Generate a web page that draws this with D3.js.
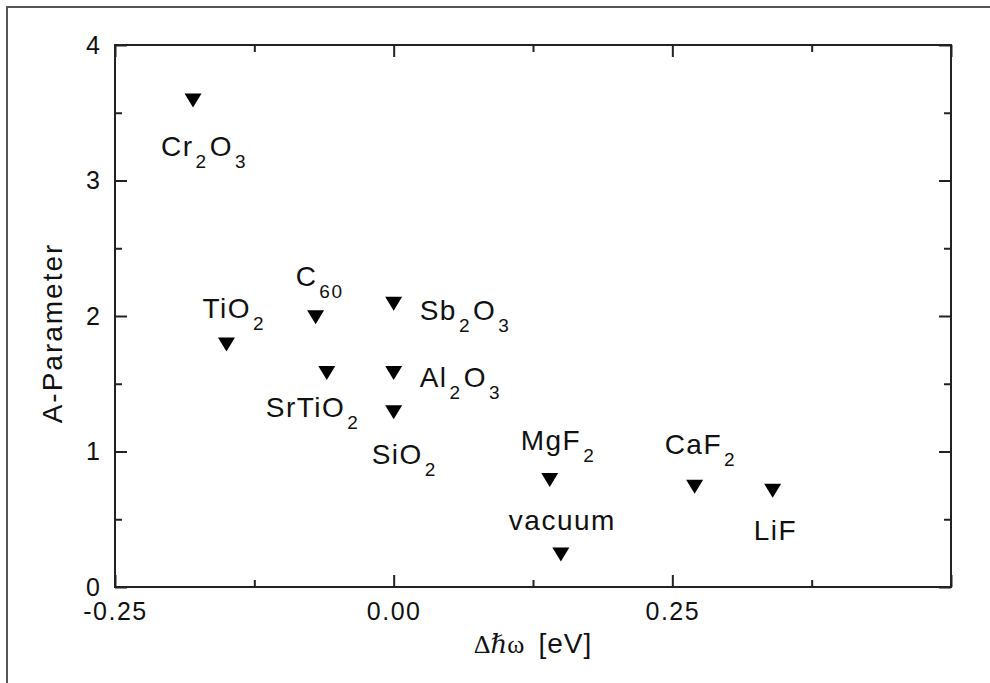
<!DOCTYPE html>
<html>
<head>
<meta charset="utf-8">
<script src="https://cdn.jsdelivr.net/npm/d3@7"></script>
<style>
  html, body { margin: 0; padding: 0; background: #fff; }
  svg { display: block; }
  text { font-family: "Liberation Sans", Arial, Helvetica, sans-serif; fill: #111; }
</style>
</head>
<body>
<svg id="chart" width="990" height="683"></svg>
<script>
// ---- data ----
const materials = ["Cr_2O_3", "TiO_2", "C_60", "SrTiO_2", "Sb_2O_3", "Al_2O_3", "SiO_2", "MgF_2", "vacuum", "CaF_2", "LiF"];
const deltaE   = [-0.18, -0.15, -0.07, -0.06, 0.00, 0.00, 0.00, 0.14, 0.15, 0.27, 0.34];
const aParam   = [3.59, 1.79, 1.99, 1.58, 2.09, 1.58, 1.29, 0.79, 0.24, 0.74, 0.71];
const xTickValues = [-0.25, 0.00, 0.25, 0.50];
const xTickLabels = ["-0.25", "0.00", "0.25", ""];
const xMinorTicks = [-0.125, 0.125, 0.375];
const yTickValues = [0, 1, 2, 3, 4];
const yTickLabels = ["0", "1", "2", "3", "4"];
const yMinorTicks = [0.5, 1.5, 2.5, 3.5];

// ---- layout (pixel offsets of each label relative to its marker) ----
const labelOffsets = [[-32, 55], [-24, -26], [-20, -31], [-61, 44], [26, 16], [26, 14], [-22, 52], [-29, -30], [-52, -24], [-30, -33], [-19, 49]];

const svg = d3.select("#chart");
const W = 990, H = 683;
const plot = { left: 115, top: 45, right: 951, bottom: 587 };

// outer frame
svg.append("rect").attr("x", 7).attr("y", 7).attr("width", W).attr("height", H)
  .attr("fill", "none").attr("stroke", "#555").attr("stroke-width", 2);

const x = d3.scaleLinear().domain([-0.25, 0.5]).range([plot.left, plot.right]);
const y = d3.scaleLinear().domain([0, 4]).range([plot.bottom, plot.top]);

const majorLen = 12, minorLen = 7;
const axisStyle = g => { g.select(".domain").remove(); g.selectAll("line").attr("stroke", "#222").attr("stroke-width", 2); };

// bottom axis (major with labels)
svg.append("g").attr("transform", `translate(0,${plot.bottom})`)
  .call(d3.axisBottom(x).tickValues(xTickValues).tickSize(-majorLen).tickPadding(15)
        .tickFormat((d, i) => xTickLabels[i]))
  .call(axisStyle)
  .call(g => g.selectAll("text").attr("font-size", 25).attr("letter-spacing", 1.5)
        .attr("fill", "#111").attr("dy", "0.71em").attr("font-family", "Liberation Sans, Arial, sans-serif"));
svg.append("g").attr("transform", `translate(0,${plot.bottom})`)
  .call(d3.axisBottom(x).tickValues(xMinorTicks).tickSize(-minorLen).tickFormat(""))
  .call(axisStyle);
// top axis
svg.append("g").attr("transform", `translate(0,${plot.top})`)
  .call(d3.axisTop(x).tickValues(xTickValues).tickSize(-majorLen).tickFormat(""))
  .call(axisStyle);
svg.append("g").attr("transform", `translate(0,${plot.top})`)
  .call(d3.axisTop(x).tickValues(xMinorTicks).tickSize(-minorLen).tickFormat(""))
  .call(axisStyle);
// left axis
svg.append("g").attr("transform", `translate(${plot.left},0)`)
  .call(d3.axisLeft(y).tickValues(yTickValues).tickSize(-majorLen).tickPadding(15)
        .tickFormat((d, i) => yTickLabels[i]))
  .call(axisStyle)
  .call(g => g.selectAll("text").attr("font-size", 25).attr("fill", "#111")
        .attr("font-family", "Liberation Sans, Arial, sans-serif"));
svg.append("g").attr("transform", `translate(${plot.left},0)`)
  .call(d3.axisLeft(y).tickValues(yMinorTicks).tickSize(-minorLen).tickFormat(""))
  .call(axisStyle);
// right axis
svg.append("g").attr("transform", `translate(${plot.right},0)`)
  .call(d3.axisRight(y).tickValues(yTickValues).tickSize(-majorLen).tickFormat(""))
  .call(axisStyle);
svg.append("g").attr("transform", `translate(${plot.right},0)`)
  .call(d3.axisRight(y).tickValues(yMinorTicks).tickSize(-minorLen).tickFormat(""))
  .call(axisStyle);

// plot frame
svg.append("rect").attr("x", plot.left).attr("y", plot.top)
  .attr("width", plot.right - plot.left).attr("height", plot.bottom - plot.top)
  .attr("fill", "none").attr("stroke", "#222").attr("stroke-width", 2);

// markers: downward triangles centered on the data point
const tw = 17, th = 14;
const tri = `M${-tw/2},${-th/2}L${tw/2},${-th/2}L0,${th/2}Z`;
svg.append("g").selectAll("path").data(materials).join("path")
  .attr("d", tri)
  .attr("transform", (d, i) => `translate(${x(deltaE[i])},${y(aParam[i])})`)
  .attr("fill", "#000");

// labels with subscripts
const labels = svg.append("g");
materials.forEach((name, i) => {
  const t = labels.append("text")
    .attr("x", x(deltaE[i]) + labelOffsets[i][0])
    .attr("y", y(aParam[i]) + labelOffsets[i][1])
    .attr("font-size", 28).attr("letter-spacing", 1.5);
  const parts = name.split(/(_\d+)/).filter(s => s.length);
  let sub = false;
  parts.forEach(p => {
    if (p.startsWith("_")) {
      t.append("tspan").attr("font-size", 19).attr("dx", 2).attr("dy", 12).text(p.slice(1));
      sub = true;
    } else {
      const ts = t.append("tspan").text(p);
      if (sub) { ts.attr("dy", -12).attr("dx", 2); sub = false; }
    }
  });
});

// axis titles
const xt = svg.append("text").attr("x", (plot.left + plot.right) / 2).attr("y", 653)
  .attr("text-anchor", "middle");
xt.append("tspan").attr("font-family", "Liberation Serif, Times New Roman, serif").attr("font-size", 26).text("Δ");
xt.append("tspan").attr("font-family", "Liberation Serif, DejaVu Serif, serif").attr("font-style", "italic").attr("font-size", 26).text("ℏ");
xt.append("tspan").attr("font-family", "Liberation Serif, Times New Roman, serif").attr("font-size", 26).text("ω");
xt.append("tspan").attr("font-size", 28).attr("dx", 14).attr("letter-spacing", 1).text("[eV]");

svg.append("text")
  .attr("transform", `translate(62,333) rotate(-90)`)
  .attr("text-anchor", "middle").attr("font-size", 28).attr("letter-spacing", 2)
  .text("A-Parameter");
</script>
</body>
</html>
